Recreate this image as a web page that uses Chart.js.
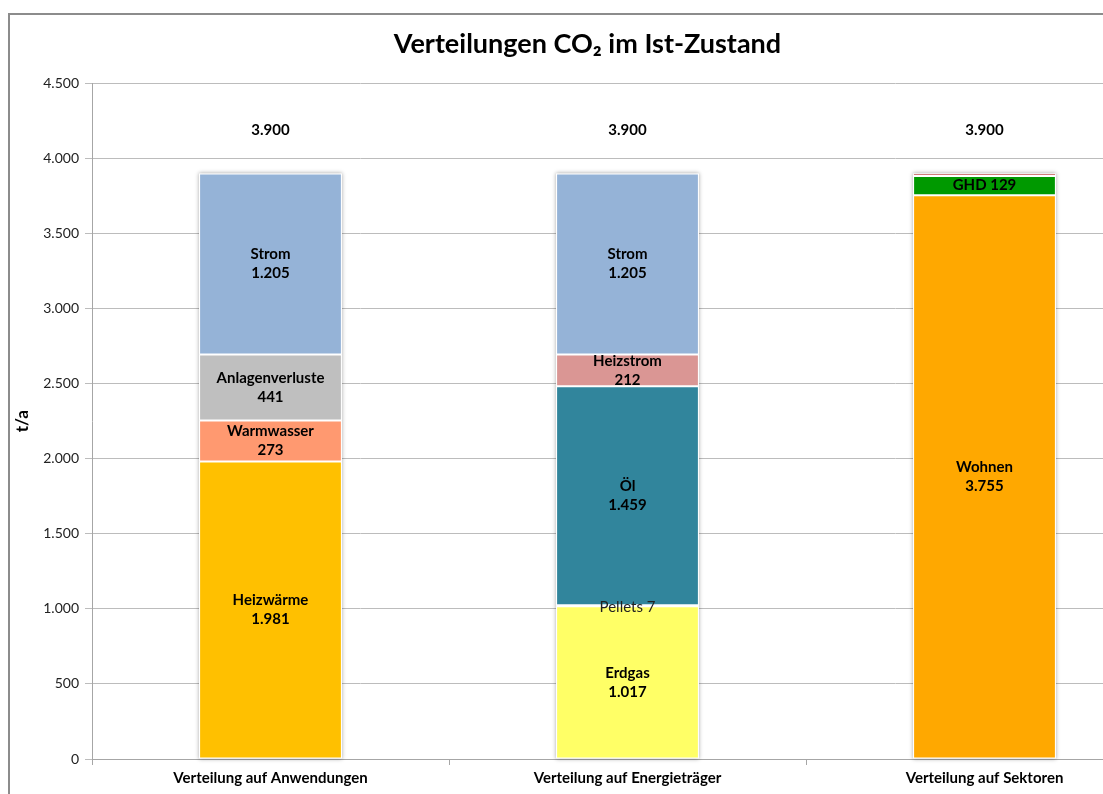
<!DOCTYPE html>
<html>
<head>
<meta charset="utf-8">
<script src="https://cdn.jsdelivr.net/npm/chart.js@4/dist/chart.umd.min.js"></script>
<style>
  html, body { margin: 0; padding: 0; overflow: hidden; background: #fff; width: 1103px; height: 794px; }
  #frame { position: absolute; left: 8px; top: 13px; width: 1200px; height: 900px; border-left: 2px solid #8c8c8c; border-top: 2px solid #8c8c8c; box-sizing: border-box; }
  #c { position: absolute; left: 0; top: 0; }
</style>
</head>
<body>
<div id="frame"></div>
<canvas id="c" width="1175" height="800"></canvas>
<script>
// ---- data ----
const categories = ['Verteilung auf Anwendungen', 'Verteilung auf Energieträger', 'Verteilung auf Sektoren'];

const anwendungenLabels = ['Heizwärme', 'Warmwasser', 'Anlagenverluste', 'Strom'];
const anwendungenValues = [1981, 273, 441, 1205];

const energietraegerLabels = ['Erdgas', 'Pellets', 'Öl', 'Heizstrom', 'Strom'];
const energietraegerValues = [1017, 7, 1459, 212, 1205];

const sektorenLabels = ['Wohnen', 'GHD', 'Sonstige'];
const sektorenValues = [3755, 129, 16];

const totals = [3900, 3900, 3900];

const yMax = 4500;
const yStep = 500;
const yTitle = 't/a';
const chartTitle = 'Verteilungen CO₂ im Ist-Zustand';

// ---- styles ----
const anwendungenColors = ['#FFC000', '#FF9970', '#BFBFBF', '#95B3D7'];
const energietraegerColors = ['#FFFF66', '#FFFF66', '#31859C', '#DA9694', '#95B3D7'];
const sektorenColors = ['#FFA800', '#009900', '#C0504D'];
// label style: 'two' = name + value on two lines, 'one' = single line, 'plain' = non-bold single line, 'none'
const anwendungenLabelStyle = ['two', 'two', 'two', 'two'];
const energietraegerLabelStyle = ['two', 'plain', 'two', 'two', 'two'];
const sektorenLabelStyle = ['two', 'one', 'none'];

const FONT = 'Lato, "Open Sans", sans-serif';

function fmt(v) {
  return String(v).replace(/\B(?=(\d{3})+(?!\d))/g, '.');
}

const datasets = [];
function addGroup(catIndex, names, values, colors, styles) {
  names.forEach((n, i) => {
    const data = categories.map((_, k) => (k === catIndex ? values[i] : null));
    datasets.push({
      label: n,
      data,
      backgroundColor: colors[i],
      borderColor: '#ffffff',
      borderWidth: styles[i] === 'none' ? 0.8 : 1,
      borderSkipped: false,
      segName: n,
      segStyle: styles[i],
      stack: 's'
    });
  });
}
addGroup(0, anwendungenLabels, anwendungenValues, anwendungenColors, anwendungenLabelStyle);
addGroup(1, energietraegerLabels, energietraegerValues, energietraegerColors, energietraegerLabelStyle);
addGroup(2, sektorenLabels, sektorenValues, sektorenColors, sektorenLabelStyle);

const shadowPlugin = {
  id: 'stackShadow',
  beforeDatasetsDraw(chart) {
    const ctx = chart.ctx;
    const stacks = {};
    chart.data.datasets.forEach((ds, i) => {
      const meta = chart.getDatasetMeta(i);
      ds.data.forEach((v, j) => {
        if (v === null) return;
        const p = meta.data[j].getProps(['x', 'y', 'base', 'width'], true);
        const s = stacks[j] || (stacks[j] = { x: p.x, w: p.width, top: Infinity, bottom: -Infinity });
        s.top = Math.min(s.top, p.y, p.base);
        s.bottom = Math.max(s.bottom, p.y, p.base);
      });
    });
    ctx.save();
    ctx.fillStyle = '#ffffff';
    ctx.shadowColor = 'rgba(0,0,0,0.35)';
    ctx.shadowBlur = 4;
    Object.values(stacks).forEach(s => {
      ctx.fillRect(s.x - s.w / 2, s.top, s.w, s.bottom - s.top);
    });
    ctx.restore();
  }
};

const labelPlugin = {
  id: 'segLabels',
  afterDatasetsDraw(chart) {
    const ctx = chart.ctx;
    ctx.save();
    ctx.fillStyle = '#000';
    ctx.textAlign = 'center';
    ctx.textBaseline = 'middle';
    chart.data.datasets.forEach((ds, i) => {
      const meta = chart.getDatasetMeta(i);
      ds.data.forEach((v, j) => {
        if (v === null || ds.segStyle === 'none') return;
        const el = meta.data[j];
        const p = el.getProps(['x', 'y', 'base'], true);
        const cy = (p.y + p.base) / 2;
        if (ds.segStyle === 'two') {
          ctx.font = 'bold 15px ' + FONT;
          ctx.fillText(ds.segName, p.x, cy - 9.5);
          ctx.fillText(fmt(v), p.x, cy + 9.5);
        } else if (ds.segStyle === 'one') {
          ctx.font = 'bold 15px ' + FONT;
          ctx.fillText(ds.segName + ' ' + fmt(v), p.x, cy);
        } else {
          ctx.font = '15px ' + FONT;
          ctx.fillStyle = '#222';
          ctx.fillText(ds.segName + ' ' + fmt(v), p.x, cy + 1);
          ctx.fillStyle = '#000';
        }
      });
    });
    const xs = chart.scales.x, ys = chart.scales.y;
    ctx.font = 'bold 15px ' + FONT;
    totals.forEach((t, j) => {
      ctx.fillText(fmt(t), xs.getPixelForValue(j), ys.getPixelForValue(4190));
    });
    ctx.restore();
  }
};

new Chart(document.getElementById('c'), {
  type: 'bar',
  data: { labels: categories, datasets },
  options: {
    responsive: false,
    animation: false,
    devicePixelRatio: 1,
    layout: { padding: { left: 12, right: 12, top: 0, bottom: 0 } },
    datasets: { bar: { barPercentage: 0.4, categoryPercentage: 1.0 } },
    plugins: {
      legend: { display: false },
      tooltip: { enabled: false },
      title: {
        display: true,
        text: chartTitle,
        color: '#000',
        font: { family: FONT, size: 27, weight: 'bold' },
        padding: { top: 28, bottom: 23 }
      }
    },
    scales: {
      x: {
        stacked: true,
        grid: { drawOnChartArea: false, drawTicks: true, tickLength: 6, offset: true, color: '#a6a6a6' },
        border: { display: true, color: '#a6a6a6' },
        ticks: { color: '#000', font: { family: FONT, size: 15, weight: 'bold' }, padding: 4, maxRotation: 0 },
        afterFit(s) { s.height = 41; }
      },
      y: {
        stacked: true,
        min: 0,
        max: yMax,
        grid: { color: '#bcbcbc', tickLength: 7, drawTicks: true },
        border: { display: true, color: '#a6a6a6' },
        ticks: {
          stepSize: yStep,
          color: '#222',
          padding: 6,
          font: { family: FONT, size: 14 },
          callback: (v) => fmt(v)
        },
        title: {
          display: true,
          text: yTitle,
          color: '#000',
          font: { family: FONT, size: 17, weight: 'bold' },
          padding: { top: 0, bottom: 0 }
        },
        afterFit(s) { s.width = 80; }
      }
    }
  },
  plugins: [shadowPlugin, labelPlugin]
});
</script>
</body>
</html>
